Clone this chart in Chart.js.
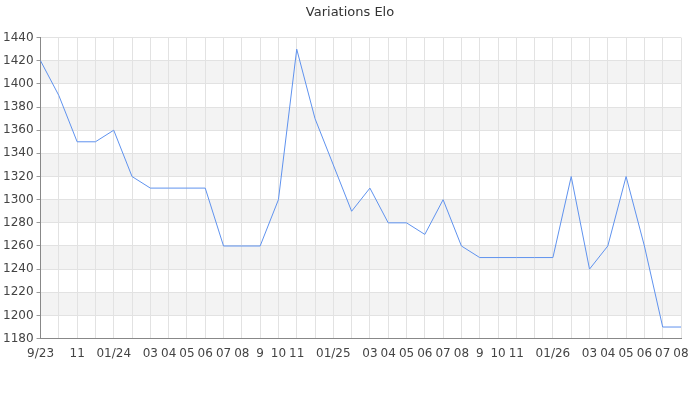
<!DOCTYPE html>
<html>
<head>
<meta charset="utf-8">
<script src="https://cdn.jsdelivr.net/npm/chart.js@4/dist/chart.umd.min.js"></script>
<style>
  body { margin: 0; background: #fff; }
  #wrap { width: 700px; height: 400px; }
</style>
</head>
<body>
<div id="wrap"><canvas id="eloChart" width="700" height="400"></canvas></div>
<script>
// Monthly ticks, Sep 2023 -> Aug 2026 (blank = label skipped in the reference)
const months = ['9/23', '', '11', '', '01/24', '', '03', '04', '05', '06', '07', '08',
    '9', '10', '11', '', '01/25', '', '03', '04', '05', '06', '07', '08',
    '9', '10', '11', '', '01/26', '', '03', '04', '05', '06', '07', '08'];

const elo = [1420, 1390, 1350, 1350, 1360, 1320, 1310, 1310, 1310, 1310, 1260, 1260,
    1260, 1300, 1430, 1370, 1330, 1290, 1310, 1280, 1280, 1270, 1300, 1260,
    1250, 1250, 1250, 1250, 1250, 1320, 1240, 1260, 1320, 1260, 1190, 1190];

const yMin = 1180;
const yMax = 1440;

// Alternating grey bands behind the grid
const bandPlugin = {
    id: 'bands',
    beforeDraw(chart) {
        const { ctx, chartArea, scales } = chart;
        const y = scales.y;
        ctx.save();
        ctx.fillStyle = '#f3f3f3';
        for (let v = yMin + 20; v < yMax; v += 40) {
            const top = y.getPixelForValue(v + 20);
            const bottom = y.getPixelForValue(v);
            ctx.fillRect(chartArea.left, top, chartArea.right - chartArea.left, bottom - top);
        }
        ctx.restore();
    }
};

Chart.defaults.font.family = 'DejaVu Sans';
Chart.defaults.color = '#444';

new Chart(document.getElementById('eloChart'), {
    type: 'line',
    data: {
        labels: months,
        datasets: [{
            label: 'Elo',
            data: elo,
            borderColor: '#5f92ee',
            borderWidth: 1,
            pointRadius: 0,
            tension: 0,
            fill: false
        }]
    },
    options: {
        responsive: false,
        animation: false,
        layout: { padding: { left: 0, right: 0, top: 0, bottom: 31 } },
        plugins: {
            legend: { display: false },
            tooltip: { enabled: false },
            title: {
                display: true,
                text: 'Variations Elo',
                color: '#333',
                font: { size: 13, weight: 'normal' },
                padding: { top: 5, bottom: 17 }
            }
        },
        scales: {
            x: {
                offset: false,
                grid: { color: '#e2e2e2', drawTicks: false },
                border: { color: '#888' },
                // keep room on the right without shifting the title
                afterFit: s => { s.paddingRight = 19; },
                ticks: {
                    autoSkip: false,
                    maxRotation: 0,
                    padding: 8,
                    font: { size: 12 },
                    color: '#444'
                }
            },
            y: {
                min: yMin,
                max: yMax,
                grid: {
                    color: c => (c.tick && c.tick.value % 20 === 0) ? '#e2e2e2' : 'rgba(0,0,0,0)',
                    tickColor: '#999',
                    tickLength: 4
                },
                border: { color: '#888' },
                ticks: {
                    stepSize: 10,
                    padding: 3,
                    font: { size: 12 },
                    color: '#444',
                    callback: v => (v % 20 === 0 ? v : '')
                }
            }
        }
    },
    plugins: [bandPlugin]
});
</script>
</body>
</html>
